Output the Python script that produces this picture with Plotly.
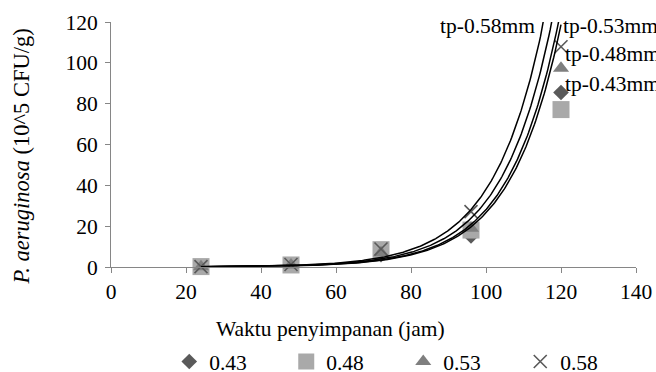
import numpy as np
import plotly.graph_objects as go

# ---- data ----
hours = [24, 48, 72, 96, 120]
series_names = ["0.43", "0.48", "0.53", "0.58"]
vals_043 = [0.1, 0.9, 6.0, 15.2, 85.5]
vals_048 = [0.2, 1.0, 8.5, 18.1, 77.1]
vals_053 = [0.1, 1.0, 7.0, 19.0, 97.4]
vals_058 = [0.2, 1.2, 8.8, 27.1, 107.9]
# exponential trendlines y = a * exp(b * x)
trend_a = [0.01465, 0.01555, 0.0178, 0.02099]
trend_b = [0.075, 0.075, 0.075, 0.075]
trend_labels = ["tp-0.43mm", "tp-0.48mm", "tp-0.53mm", "tp-0.58mm"]
x_ticks = [0, 20, 40, 60, 80, 100, 120, 140]
y_ticks = [0, 20, 40, 60, 80, 100, 120]

FONT = "Liberation Serif"
FS = 21.5

all_vals = [vals_043, vals_048, vals_053, vals_058]
symbols = ["diamond", "square", "triangle-up", "x-thin-open"]
colors = ["#5a5a5a", "#a9a9a9", "#7f7f7f", "#5a5a5a"]
sizes = [12, 17, 14, 13]

fig = go.Figure()
for name, v, s, c, sz in zip(series_names, all_vals, symbols, colors, sizes):
    marker = dict(symbol=s, size=sz, color=c)
    if s == "x-thin-open":
        marker["line"] = dict(color=c, width=1.6)
    else:
        marker["line"] = dict(width=0)
    fig.add_trace(go.Scatter(x=hours, y=v, mode="markers", name=name,
                             marker=marker, cliponaxis=False))

xs = np.linspace(hours[0], hours[-1], 300)
for a, b in zip(trend_a, trend_b):
    fig.add_trace(go.Scatter(x=xs, y=a * np.exp(b * xs), mode="lines",
                             line=dict(color="black", width=1.5),
                             showlegend=False, hoverinfo="skip"))

ann = []
# curve labels
label_pos = {
    "tp-0.58mm": (113.7, 118.0, "right"),
    "tp-0.53mm": (120.1, 118.0, "left"),
    "tp-0.48mm": (120.4, 104.3, "left"),
    "tp-0.43mm": (120.4, 89.6, "left"),
}
for lab in trend_labels:
    x, y, anc = label_pos[lab]
    ann.append(dict(x=x, y=y, xref="x", yref="y", text=lab, showarrow=False,
                    xanchor=anc, yanchor="middle",
                    font=dict(family=FONT, size=FS, color="black")))
# axis titles
ann.append(dict(x=0.419, y=-0.255, xref="paper", yref="paper",
                text="Waktu penyimpanan (jam)", showarrow=False,
                xanchor="center", yanchor="middle",
                font=dict(family=FONT, size=FS, color="black")))
ann.append(dict(x=-0.17, y=0.45, xref="paper", yref="paper",
                text="<i>P. aeruginosa</i> (10^5 CFU/g)", showarrow=False,
                textangle=-90, xanchor="center", yanchor="middle",
                font=dict(family=FONT, size=22.5, color="black")))

axis_common = dict(showgrid=False, zeroline=False, showline=True,
                   linecolor="#868686", linewidth=1, ticks="outside",
                   ticklen=5, tickcolor="#868686", tickwidth=1,
                   tickfont=dict(family=FONT, size=FS, color="black"))

fig.update_layout(
    width=656, height=372,
    font=dict(family=FONT, size=FS, color="black"),
    margin=dict(l=111, r=20, t=22, b=105, autoexpand=False),
    paper_bgcolor="white", plot_bgcolor="white",
    xaxis=dict(range=[0, 140], tickvals=x_ticks, **axis_common),
    yaxis=dict(range=[0, 120], tickvals=y_ticks, ticklabelstandoff=3,
               **axis_common),
    annotations=ann,
    showlegend=True,
    legend=dict(orientation="h", x=0.258, xref="container", xanchor="left",
                y=0.028, yref="container", yanchor="middle",
                entrywidth=72, entrywidthmode="pixels",
                font=dict(family=FONT, size=FS, color="black"),
                itemwidth=30, bgcolor="rgba(0,0,0,0)"),
)

fig.write_html("out.html")
